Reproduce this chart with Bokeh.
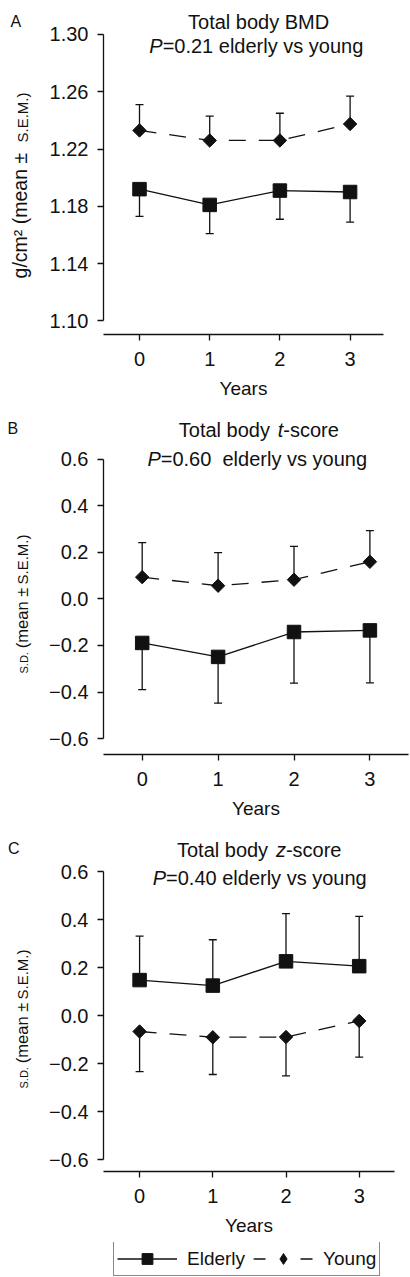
import numpy as np
from bokeh.plotting import figure
from bokeh.models import (ColumnDataSource, Whisker, TeeHead, Label, Legend, LegendItem,
                          FixedTicker, Range1d, PrintfTickFormatter, CustomJSTickFormatter)
from bokeh.layouts import column, row
from bokeh.embed import file_html
from bokeh.resources import INLINE

FONT = "Liberation Sans"
INK = "#111111"

# ---------------- data ----------------
years = [0, 1, 2, 3]

bmd_elderly = [1.192, 1.181, 1.191, 1.190]
bmd_elderly_sem = [0.019, 0.020, 0.020, 0.021]
bmd_young = [1.233, 1.226, 1.226, 1.2375]
bmd_young_sem = [0.018, 0.017, 0.019, 0.0195]

t_elderly = [-0.189, -0.249, -0.142, -0.135]
t_elderly_sem = [0.201, 0.199, 0.220, 0.226]
t_young = [0.094, 0.057, 0.083, 0.160]
t_young_sem = [0.148, 0.142, 0.143, 0.134]

z_elderly = [0.148, 0.125, 0.226, 0.206]
z_elderly_sem = [0.183, 0.191, 0.199, 0.207]
z_young = [-0.066, -0.090, -0.089, -0.022]
z_young_sem = [0.167, 0.155, 0.162, 0.151]

bmd_ticks = [1.10, 1.14, 1.18, 1.22, 1.26, 1.30]
sd_ticks = [-0.6, -0.4, -0.2, 0.0, 0.2, 0.4, 0.6]

series_names = ["Elderly", "Young"]

# Arial / Liberation Sans advance widths (1/1000 em)
AW = {' ': 278, '\u00a0': 278, 'T': 611, 'o': 556, 't': 278, 'a': 556, 'l': 222, 'b': 556,
      'd': 556, 'y': 500, 'B': 667, 'M': 833, 'D': 722, '-': 333, 's': 500, 'c': 500,
      'r': 333, 'e': 556, 'z': 500, 'P': 667, '=': 584, '.': 278, 'v': 500, 'u': 556,
      'n': 556, 'g': 556, 'E': 667, 'Y': 667, 'm': 833, 'S': 667, '(': 333, ')': 333,
      '\u00b1': 584, '/': 278, '\u00b2': 333, 'i': 222}


def tw(s, size):
    return sum(AW.get(c, 556) for c in s) * size / 1000.0


STRIP_W = 32
TOTAL_W = 410
LEGEND_H = 35

# ---------------- layout specs (page pixel geometry) ----------------
panels = [
    dict(letter="A", letter_xy=(10, 20.7),
         title1=[("Total body BMD", "normal")], t1=(259.2, 21.7),
         title2=[("P", "italic"), ("=0.21 elderly vs young", "normal")], t2=(255.8, 45.3),
         ylab=[("g/cm\u00b2 (mean \u00b1", 19.5, 278.3), ("S.E.M.)", 15, 142)], ylab_x=26.7,
         fig_top=0, fig_h=414, frame=(103, 383, 334.3),
         ycal=(1.30, 34, 1.10, 320.7), xcal=(139, 70.2), e_dir=-1, y_dir=1),
    dict(letter="B", letter_xy=(7, 428.3),
         title1=[("Total body ", "normal"), ("t", "italic"), ("-score", "normal")], t1=(258.3, 430),
         title2=[("P", "italic"), ("=0.60\u00a0\u00a0elderly vs young", "normal")], t2=(256.7, 458.3),
         ylab=[("S.D.", 11, 673), ("(mean \u00b1", 16.5, 648), ("S.E.M.)", 15, 584)], ylab_x=27.3,
         fig_top=414, fig_h=418, frame=(103, 408, 754.3),
         ycal=(0.6, 459, -0.6, 738.3), xcal=(141.7, 75.9), e_dir=-1, y_dir=1),
    dict(letter="C", letter_xy=(7.5, 848.3),
         title1=[("Total body ", "normal"), ("z", "italic"), ("-score", "normal")], t1=(258.7, 849),
         title2=[("P", "italic"), ("=0.40 elderly vs young", "normal")], t2=(259.2, 877.3),
         ylab=[("S.D.", 11, 1088), ("(mean \u00b1", 16.5, 1063), ("S.E.M.)", 15, 999)], ylab_x=27.3,
         fig_top=832, fig_h=410, frame=(103, 394, 1171),
         ycal=(0.6, 871, -0.6, 1159.3), xcal=(139.1, 73.2), e_dir=1, y_dir=-1),
]
datasets = [
    (bmd_elderly, bmd_elderly_sem, bmd_young, bmd_young_sem, bmd_ticks, "bmd"),
    (t_elderly, t_elderly_sem, t_young, t_young_sem, sd_ticks, "sd"),
    (z_elderly, z_elderly_sem, z_young, z_young_sem, sd_ticks, "sd"),
]


def make_source(vals, sem, direction):
    lo = [v - s if direction < 0 else v for v, s in zip(vals, sem)]
    hi = [v if direction < 0 else v + s for v, s in zip(vals, sem)]
    return ColumnDataSource(dict(x=years, y=vals, lo=lo, hi=hi))


def head(on):
    return TeeHead(size=8, line_color=INK, line_width=1.3) if on else None


def bare(width, height, frame_h=None):
    frame_h = height if frame_h is None else frame_h
    f = figure(width=width, height=height, x_range=Range1d(0, width),
               y_range=Range1d(0, frame_h),
               output_backend="svg", toolbar_location=None, title=None,
               x_axis_type=None, y_axis_type=None, min_border=0)
    f.min_border_left = f.min_border_right = f.min_border_top = 0
    f.min_border_bottom = height - frame_h
    f.outline_line_color = None
    f.xgrid.visible = False
    f.ygrid.visible = False
    return f


def series_glyphs(p, src_e, src_y, young_marker="square", young_angle=np.pi / 4,
                  young_dash="17 13", **kw):
    le = p.line("x", "y", source=src_e, line_color=INK, line_width=1.3, **kw)
    se = p.scatter("x", "y", source=src_e, marker="square", size=13.5,
                   fill_color=INK, line_color=INK, **kw)
    ly = p.line("x", "y", source=src_y, line_color=INK, line_width=1.3, line_dash=young_dash, **kw)
    sy = p.scatter("x", "y", source=src_y, marker=young_marker, angle=young_angle, size=9.5,
                   fill_color=INK, line_color=INK, **kw)
    return le, se, ly, sy


def build(spec, elderly, e_sem, young, y_sem, ticks, fmt):
    top, h = spec["fig_top"], spec["fig_h"]
    fl, fr, fb = spec["frame"]
    ft = top
    border_b = round(top + h - fb)
    frame_h = h - border_b
    v_hi, p_hi, v_lo, p_lo = spec["ycal"]
    k = (v_hi - v_lo) / (p_lo - p_hi)
    y1 = v_hi + (p_hi - ft) * k
    y0 = v_hi - (fb - p_hi) * k
    p0, sp = spec["xcal"]
    x0, x1 = (fl - p0) / sp, (fr - p0) / sp

    def dx(px):
        return (px - p0) / sp

    def dy(py):
        return y1 - (py - ft) * k

    p = figure(width=TOTAL_W - STRIP_W, height=h, x_range=Range1d(x0, x1),
               y_range=Range1d(y0, y1),
               output_backend="svg", toolbar_location=None, title=None,
               min_border_left=fl - STRIP_W, min_border_right=TOTAL_W - fr,
               min_border_top=0, min_border_bottom=border_b)
    p.outline_line_color = None
    p.xgrid.visible = False
    p.ygrid.visible = False

    for ax in (p.xaxis[0], p.yaxis[0]):
        ax.axis_line_color = INK
        ax.axis_line_width = 1.3
        ax.major_tick_line_color = INK
        ax.major_tick_line_width = 1.3
        ax.major_tick_in = 0
        ax.major_tick_out = 6
        ax.minor_tick_line_color = None
        ax.major_label_text_font = FONT
        ax.major_label_text_font_size = "20px"
        ax.major_label_text_color = INK
    p.xaxis.ticker = FixedTicker(ticks=years)
    p.xaxis.major_label_standoff = 11
    p.xaxis.axis_label = "Years"
    p.xaxis.axis_label_text_font = FONT
    p.xaxis.axis_label_text_font_size = "19px"
    p.xaxis.axis_label_text_font_style = "normal"
    p.xaxis.axis_label_text_color = INK
    p.xaxis.axis_label_standoff = 9
    p.yaxis.ticker = FixedTicker(ticks=ticks)
    p.yaxis.bounds = (min(ticks), max(ticks))
    p.yaxis.major_label_standoff = 9
    if fmt == "bmd":
        p.yaxis.formatter = PrintfTickFormatter(format="%.2f")
    else:
        p.yaxis.formatter = CustomJSTickFormatter(
            code="return tick < -1e-9 ? '\\u2212' + Math.abs(tick).toFixed(1) : Math.abs(tick).toFixed(1);")

    src_e = make_source(elderly, e_sem, spec["e_dir"])
    src_y = make_source(young, y_sem, spec["y_dir"])
    for src, d in ((src_e, spec["e_dir"]), (src_y, spec["y_dir"])):
        p.add_layout(Whisker(source=src, base="x", lower="lo", upper="hi", dimension="height",
                             line_color=INK, line_width=1.3,
                             lower_head=head(d < 0), upper_head=head(d > 0)))
    series_glyphs(p, src_e, src_y)

    # two-line title, pieces laid out left to right (inside the frame)
    for parts, (cx, base) in ((spec["title1"], spec["t1"]), (spec["title2"], spec["t2"])):
        total = sum(tw(t, 20) for t, _ in parts)
        xpos = cx - total / 2
        for t, style in parts:
            p.add_layout(Label(x=dx(xpos), y=dy(base), text=t, text_font=FONT,
                               text_font_size="20px", text_font_style=style, text_color=INK,
                               text_align="left", text_baseline="alphabetic"))
            xpos += tw(t, 20)

    # left strip: panel letter and rotated y-axis label (its frame matches the plot frame)
    s = bare(STRIP_W, h, frame_h)

    def sy_(py):
        return frame_h - (py - top)

    lx, lyy = spec["letter_xy"]
    s.add_layout(Label(x=lx, y=sy_(lyy), text=spec["letter"], text_font=FONT,
                       text_font_size="16px", text_color=INK, text_align="left",
                       text_baseline="alphabetic"))
    for t, size, start in spec["ylab"]:
        yc = start - tw(t, size) / 2
        xc = spec["ylab_x"] - 0.3465 * size
        s.add_layout(Label(x=xc, y=sy_(yc), text=t, angle=np.pi / 2,
                           text_font=FONT, text_font_size=f"{size}px", text_color=INK,
                           text_align="center", text_baseline="middle"))
    return row(s, p, spacing=0)


rows = []
for spec, ds in zip(panels, datasets):
    rows.append(build(spec, *ds))

# legend strip at the bottom (hidden proxy renderers carry the legend styling)
lf = bare(TOTAL_W, LEGEND_H)
src_le = make_source(z_elderly, z_elderly_sem, 1)
src_ly = make_source(z_young, z_young_sem, -1)
le, se, ly, sy = series_glyphs(lf, src_le, src_ly, young_marker="diamond", young_angle=0.0,
                               young_dash="12 35", visible=False)
leg = Legend(items=[LegendItem(label=series_names[0], renderers=[le, se]),
                    LegendItem(label=series_names[1], renderers=[ly, sy])],
             location=(113, 1), orientation="horizontal", click_policy="none",
             glyph_width=60, glyph_height=27, label_standoff=10, spacing=8,
             padding=3, margin=0, border_line_color=INK, border_line_width=1.3,
             label_text_font=FONT, label_text_font_size="19px",
             label_text_color=INK, background_fill_color="white",
             background_fill_alpha=1.0, inactive_fill_alpha=0.0)
lf.add_layout(leg)

layout = column(*rows, lf, spacing=0)
open("out.html", "w").write(file_html(layout, INLINE))
